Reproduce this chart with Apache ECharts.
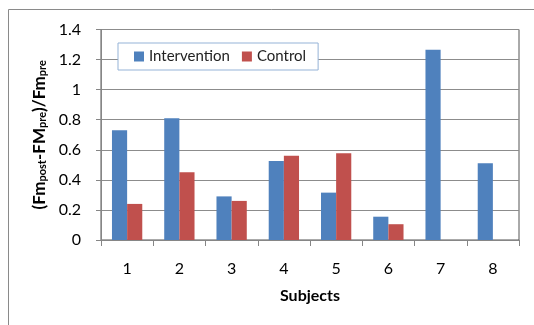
<!DOCTYPE html>
<html>
<head>
<meta charset="utf-8">
<script src="https://cdn.jsdelivr.net/npm/echarts@6/dist/echarts.min.js"></script>
<style>
  html, body { margin: 0; padding: 0; background: #fff; }
  #bar { width: 534px; height: 325px; }
</style>
</head>
<body>
<div id="bar"></div>
<script>
// 数据
const subjects = ['1', '2', '3', '4', '5', '6', '7', '8'];
const intervention = [0.73, 0.81, 0.29, 0.525, 0.315, 0.155, 1.265, 0.51];
const control = [0.24, 0.45, 0.26, 0.56, 0.577, 0.105, 0, 0];

function drawChart () {
  const myChart = echarts.init(document.getElementById('bar'));
  const option = {
    color: ['#4F81BD', '#C0504D'],
    textStyle: { fontFamily: 'Lato' },
    animation: false,
    // 外框
    graphic: [
      {
        type: 'rect',
        shape: { x: 8.5, y: 9.5, width: 540, height: 330 },
        style: { fill: 'none', stroke: '#8a8a8a', lineWidth: 1 },
        z: -1
      }
    ],
    legend: {
      left: 118,
      top: 43,
      padding: [6, 12, 6, 16],
      backgroundColor: '#fff',
      borderColor: '#95B3D7',
      borderWidth: 1,
      borderRadius: 0,
      itemWidth: 10,
      itemHeight: 10,
      itemGap: 12,
      icon: 'rect',
      textStyle: { fontSize: 15, color: '#222', fontFamily: 'Lato' },
      data: ['Intervention', 'Control']
    },
    grid: {
      left: 101,
      right: 15,
      top: 29.5,
      bottom: 85,
      show: true,
      borderColor: '#555',
      borderWidth: 1
    },
    xAxis: {
      type: 'category',
      data: subjects,
      name: 'Subjects',
      nameLocation: 'middle',
      nameGap: 48,
      nameTextStyle: { fontSize: 16, fontWeight: 'bold', color: '#000', fontFamily: 'Lato' },
      axisLine: { lineStyle: { color: '#868686' } },
      axisTick: { show: true, alignWithLabel: false, length: 6, lineStyle: { color: '#868686' } },
      axisLabel: { fontSize: 16, color: '#000', margin: 21 }
    },
    yAxis: {
      type: 'value',
      min: 0,
      max: 1.4,
      interval: 0.2,
      name: '{a|(Fm}{s|post}{a|-FM}{s|pre}{a|)/Fm}{s|pre}',
      nameLocation: 'middle',
      nameRotate: 90,
      nameGap: 50,
      nameTextStyle: {
        rich: {
          a: { fontSize: 17, fontWeight: 'bold', color: '#000', fontFamily: 'Lato', lineHeight: 18, verticalAlign: 'bottom' },
          s: { fontSize: 11, fontWeight: 'bold', color: '#000', fontFamily: 'Lato', lineHeight: 8, verticalAlign: 'bottom' }
        }
      },
      axisLine: { show: true, lineStyle: { color: '#868686' } },
      axisTick: { show: true, length: 5, lineStyle: { color: '#868686' } },
      axisLabel: { fontSize: 16, color: '#000', margin: 20 },
      splitLine: { show: true, lineStyle: { color: '#8c8c8c' } }
    },
    series: [
      {
        name: 'Intervention',
        type: 'bar',
        barGap: '0%',
        barCategoryGap: '42%',
        data: intervention
      },
      {
        name: 'Control',
        type: 'bar',
        barGap: '0%',
        barCategoryGap: '42%',
        data: control
      }
    ]
  };
  myChart.setOption(option);
  window.addEventListener('resize', function () {
    myChart.resize();
  });
}
drawChart();
</script>
</body>
</html>
